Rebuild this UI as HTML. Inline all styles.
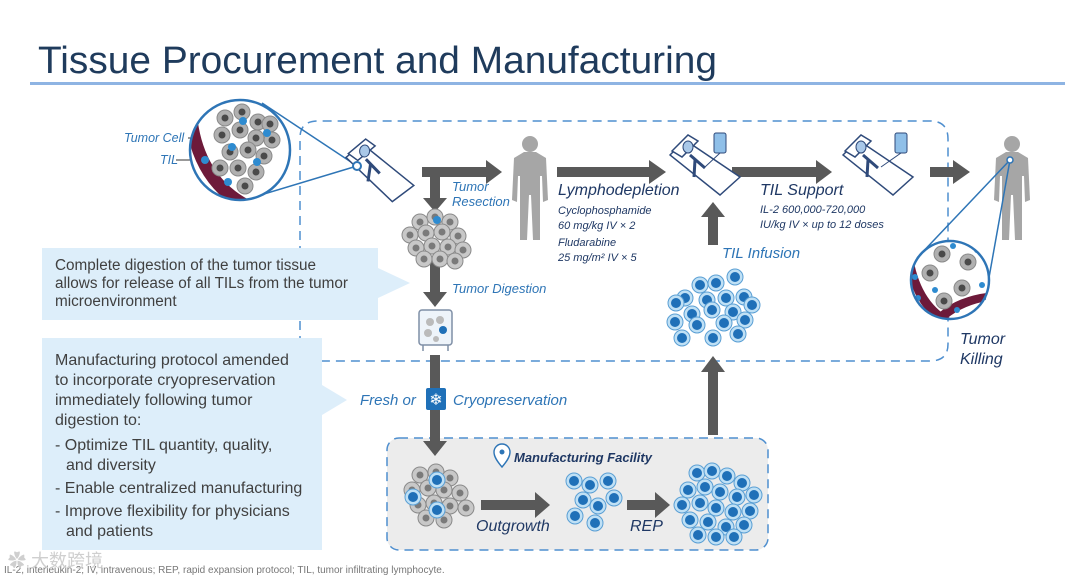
<!DOCTYPE html>
<html><head><meta charset="utf-8"><style>
html,body{margin:0;padding:0;background:#fff;width:1080px;height:583px;overflow:hidden}
svg{display:block}
text{font-family:"Liberation Sans",sans-serif}
.it{font-style:italic;fill:#2e75b6}
.nv{font-style:italic;fill:#1f3864}
.cb{fill:#404040;font-size:15.3px}
.cb2{fill:#404040;font-size:16px}
</style></head><body>
<svg width="1080" height="583" viewBox="0 0 1080 583" xmlns="http://www.w3.org/2000/svg">
<defs>
<g id="bc"><circle r="8" fill="#bfe0f5" stroke="#5a9fd4" stroke-width="1"/><circle r="5" fill="#1f70b8"/></g>
<g id="gc"><circle r="8" fill="#c8c8c8" stroke="#8a8a8a" stroke-width="1"/><circle r="3.5" fill="#7a7a7a"/></g>
<g id="gd"><circle r="8" fill="#b0b0b0" stroke="#8a8a8a" stroke-width="1"/><circle r="3.5" fill="#4a4a4a"/></g>
<g id="person"><circle cx="0" cy="-46" r="8" fill="#a6a6a6"/><path d="M-6,-38 L6,-38 L16,-32 L18,10 L13,12 L12,-14 L10,-14 L10,50 L3,50 L1,5 L-1,5 L-3,50 L-10,50 L-10,-14 L-12,-14 L-13,12 L-18,10 L-16,-32 Z" fill="#a6a6a6"/></g>
<g id="bed"><path d="M-30,-10 L-15,-25 L40,12 L20,30 Z" fill="#fff" stroke="#2f4a7a" stroke-width="1.5"/><path d="M-28,-14 L-12,-30 L-2,-24 L-18,-8 Z" fill="#fff" stroke="#2f4a7a" stroke-width="1.5"/><ellipse cx="-12" cy="-18" rx="5" ry="6" fill="#a9c8e8" stroke="#2f4a7a"/><path d="M-10,-10 L5,3 M-5,-5 L-6,12" stroke="#2f4a7a" stroke-width="3" fill="none"/></g>
</defs>

<!-- title -->
<text x="38" y="73" font-size="38" fill="#1f3b5c" textLength="679" lengthAdjust="spacingAndGlyphs">Tissue Procurement and Manufacturing</text>
<rect x="30" y="82" width="1035" height="3" fill="#8eb4e3"/>

<!-- dashed main box -->
<path d="M300,345 L300,138 Q300,121 318,121 L930,121 Q948,121 948,139 L948,344 Q948,361 930,361 L230,361 Q216,361 214,350" fill="none" stroke="#4f8fcf" stroke-width="1.5" stroke-dasharray="9,6"/>

<!-- manufacturing facility box -->
<rect x="387" y="438" width="381" height="112" rx="12" fill="#ececec" stroke="#4f8fcf" stroke-width="1.5" stroke-dasharray="9,6"/>

<!-- callouts -->
<path d="M42,248 L378,248 L378,268 L410,283 L378,298 L378,320 L42,320 Z" fill="#ddeefa"/>
<path d="M42,338 L322,338 L322,385 L347,400 L322,415 L322,550 L42,550 Z" fill="#ddeefa"/>
<text class="cb" x="55" y="270">Complete digestion of the tumor tissue</text>
<text class="cb" x="55" y="288">allows for release of all TILs from the tumor</text>
<text class="cb" x="55" y="306">microenvironment</text>
<text class="cb2" x="55" y="365">Manufacturing protocol amended</text>
<text class="cb2" x="55" y="385">to incorporate cryopreservation</text>
<text class="cb2" x="55" y="405">immediately following tumor</text>
<text class="cb2" x="55" y="425">digestion to:</text>
<text class="cb2" x="55" y="450">- Optimize TIL quantity, quality,</text>
<text class="cb2" x="66" y="470">and diversity</text>
<text class="cb2" x="55" y="493">- Enable centralized manufacturing</text>
<text class="cb2" x="55" y="516">- Improve flexibility for physicians</text>
<text class="cb2" x="66" y="536">and patients</text>

<!-- arrows -->
<g fill="#595959">
<rect x="422" y="167" width="66" height="10"/><polygon points="486,160 502,172 486,184"/>
<rect x="430" y="172" width="10" height="28"/><polygon points="423,198 447,198 435,212"/>
<rect x="430" y="262" width="10" height="32"/><polygon points="423,292 447,292 435,307"/>
<rect x="430" y="355" width="10" height="88"/><polygon points="423,441 447,441 435,456"/>
<rect x="557" y="167" width="94" height="10"/><polygon points="649,160 666,172 649,184"/>
<rect x="732" y="167" width="86" height="10"/><polygon points="816,160 832,172 816,184"/>
<rect x="930" y="167" width="25" height="10"/><polygon points="953,160 970,172 953,184"/>
<rect x="708" y="215" width="10" height="30"/><polygon points="701,217 725,217 713,202"/>
<rect x="708" y="370" width="10" height="65"/><polygon points="701,372 725,372 713,356"/>
<rect x="481" y="500" width="56" height="10"/><polygon points="535,492 550,505 535,518"/>
<rect x="627" y="500" width="30" height="10"/><polygon points="655,492 670,505 655,518"/>
</g>

<!-- labels -->
<text class="it" x="452" y="191" font-size="13">Tumor</text>
<text class="it" x="452" y="206" font-size="13">Resection</text>
<text class="nv" x="558" y="195" font-size="16">Lymphodepletion</text>
<text class="nv" x="558" y="214" font-size="11">Cyclophosphamide</text>
<text class="nv" x="558" y="229" font-size="11">60 mg/kg IV × 2</text>
<text class="nv" x="558" y="246" font-size="11">Fludarabine</text>
<text class="nv" x="558" y="261" font-size="11">25 mg/m² IV × 5</text>
<text class="nv" x="760" y="195" font-size="16">TIL Support</text>
<text class="nv" x="760" y="213" font-size="11">IL-2 600,000-720,000</text>
<text class="nv" x="760" y="228" font-size="11">IU/kg IV × up to 12 doses</text>
<text class="it" x="722" y="258" font-size="15">TIL Infusion</text>
<text class="it" x="452" y="293" font-size="13">Tumor Digestion</text>
<text class="it" x="360" y="405" font-size="15">Fresh or</text>
<rect x="426" y="388" width="20" height="22" rx="2" fill="#1f70b8"/>
<text x="436" y="405" font-size="16" fill="#fff" text-anchor="middle">❄</text>
<text class="it" x="453" y="405" font-size="15">Cryopreservation</text>
<path d="M502,467 C496,460 494,456 494,452 A8,8 0 0 1 510,452 C510,456 508,460 502,467 Z" fill="#fff" stroke="#2e75b6" stroke-width="1.4"/>
<circle cx="502" cy="452" r="2.5" fill="#2e75b6"/>
<text x="514" y="462" font-size="13" font-weight="bold" font-style="italic" fill="#1f3864">Manufacturing Facility</text>
<text class="nv" x="476" y="531" font-size="16">Outgrowth</text>
<text class="nv" x="630" y="531" font-size="16">REP</text>
<text class="nv" x="960" y="344" font-size="16">Tumor</text>
<text class="nv" x="960" y="364" font-size="16">Killing</text>
<text class="it" x="124" y="142" font-size="12.5">Tumor Cell</text>
<text class="it" x="160" y="164" font-size="12.5">TIL</text>
<path d="M188,138 L215,138 M176,160 L195,160 L204,158" stroke="#333" stroke-width="1" fill="none"/>

<!-- left magnifier -->
<g>
<line x1="262" y1="103" x2="357" y2="166" stroke="#2e75b6" stroke-width="1.5"/>
<line x1="254" y1="197" x2="357" y2="166" stroke="#2e75b6" stroke-width="1.5"/>
<clipPath id="c1"><circle cx="240" cy="150" r="50"/></clipPath>
<circle cx="240" cy="150" r="50" fill="#fff"/>
<g clip-path="url(#c1)">
<path d="M196,100 Q198,180 260,205 L260,220 Q185,190 184,100 Z" fill="#6d1a3a"/>
<use href="#gd" x="225" y="118"/><use href="#gd" x="242" y="112"/><use href="#gd" x="258" y="122"/><use href="#gd" x="222" y="135"/><use href="#gd" x="240" y="130"/><use href="#gd" x="256" y="138"/><use href="#gd" x="272" y="140"/><use href="#gd" x="230" y="152"/><use href="#gd" x="248" y="150"/><use href="#gd" x="264" y="156"/><use href="#gd" x="220" y="168"/><use href="#gd" x="238" y="168"/><use href="#gd" x="256" y="172"/><use href="#gd" x="245" y="186"/><use href="#gd" x="270" y="124"/>
<circle cx="243" cy="121" r="4" fill="#2e8bd0"/><circle cx="267" cy="133" r="4" fill="#2e8bd0"/><circle cx="232" cy="147" r="4" fill="#2e8bd0"/><circle cx="205" cy="160" r="4" fill="#2e8bd0"/><circle cx="257" cy="162" r="4" fill="#2e8bd0"/><circle cx="228" cy="182" r="4" fill="#2e8bd0"/>
</g>
<circle cx="240" cy="150" r="50" fill="none" stroke="#2e75b6" stroke-width="2.5"/>
</g>

<!-- left bed -->
<g transform="translate(375,170) rotate(5)"><use href="#bed"/></g>
<circle cx="357" cy="166" r="4" fill="#fff" stroke="#2e75b6" stroke-width="2"/>

<!-- persons -->
<g transform="translate(530,190)"><use href="#person"/></g>
<g transform="translate(1012,190)"><use href="#person"/></g>

<!-- beds with IV -->
<g transform="translate(700,165)"><use href="#bed"/><rect x="14" y="-32" width="12" height="20" rx="2" fill="#8fbfe8" stroke="#2f4a7a"/><line x1="20" y1="-12" x2="5" y2="2" stroke="#2f4a7a"/></g>
<g transform="translate(873,165)"><use href="#bed"/><rect x="22" y="-32" width="12" height="20" rx="2" fill="#8fbfe8" stroke="#2f4a7a"/><line x1="28" y1="-12" x2="8" y2="2" stroke="#2f4a7a"/></g>

<!-- right magnifier -->
<line x1="1010" y1="160" x2="917" y2="258" stroke="#2e75b6" stroke-width="1.5"/>
<line x1="1010" y1="160" x2="985" y2="300" stroke="#2e75b6" stroke-width="1.5"/>
<circle cx="1010" cy="160" r="3" fill="#fff" stroke="#2e75b6" stroke-width="1.5"/>
<clipPath id="c2"><circle cx="950" cy="280" r="39"/></clipPath>
<circle cx="950" cy="280" r="39" fill="#fff"/>
<g clip-path="url(#c2)">
<path d="M912,250 Q918,300 950,318 L945,325 Q908,305 905,250 Z" fill="#6d1a3a"/>
<path d="M940,312 Q960,295 995,292 L995,300 Q965,303 945,320 Z" fill="#6d1a3a"/>
<use href="#gd" x="942" y="254"/><use href="#gd" x="968" y="262"/><use href="#gd" x="930" y="273"/><use href="#gd" x="962" y="288"/><use href="#gd" x="944" y="301"/>
<circle cx="953" cy="246" r="3" fill="#2e8bd0"/><circle cx="977" cy="250" r="3" fill="#2e8bd0"/><circle cx="915" cy="277" r="3" fill="#2e8bd0"/><circle cx="982" cy="285" r="3" fill="#2e8bd0"/><circle cx="918" cy="298" r="3" fill="#2e8bd0"/><circle cx="935" cy="290" r="3" fill="#2e8bd0"/><circle cx="957" cy="310" r="3" fill="#2e8bd0"/>
</g>
<circle cx="950" cy="280" r="39" fill="none" stroke="#2e75b6" stroke-width="2.5"/>

<!-- tumor digestion cluster -->
<g>
<use href="#gc" x="420" y="222"/><use href="#gc" x="435" y="217"/><use href="#gc" x="450" y="222"/><use href="#gc" x="410" y="235"/><use href="#gc" x="426" y="233"/><use href="#gc" x="442" y="232"/><use href="#gc" x="458" y="236"/><use href="#gc" x="416" y="248"/><use href="#gc" x="432" y="246"/><use href="#gc" x="448" y="247"/><use href="#gc" x="463" y="250"/><use href="#gc" x="424" y="259"/><use href="#gc" x="440" y="259"/><use href="#gc" x="455" y="261"/>
<circle cx="437" cy="220" r="4" fill="#2e8bd0"/>
</g>
<!-- vial -->
<rect x="419" y="310" width="33" height="35" rx="3" fill="#eef4fa" stroke="#7f8fa6" stroke-width="1.5"/>
<circle cx="430" cy="322" r="4" fill="#bbb"/><circle cx="440" cy="320" r="4" fill="#bbb"/><circle cx="428" cy="333" r="4" fill="#bbb"/><circle cx="443" cy="330" r="4" fill="#1f70b8"/><circle cx="436" cy="339" r="3" fill="#bbb"/>
<path d="M423,345 v6 M448,345 v6" stroke="#7f8fa6" stroke-width="1.5"/>

<!-- TIL infusion cluster -->
<g>
<use href="#bc" x="700" y="285"/><use href="#bc" x="716" y="283"/><use href="#bc" x="735" y="277"/><use href="#bc" x="685" y="298"/><use href="#bc" x="707" y="300"/><use href="#bc" x="726" y="298"/><use href="#bc" x="744" y="297"/><use href="#bc" x="676" y="303"/><use href="#bc" x="692" y="314"/><use href="#bc" x="712" y="310"/><use href="#bc" x="733" y="312"/><use href="#bc" x="752" y="305"/><use href="#bc" x="675" y="322"/><use href="#bc" x="697" y="325"/><use href="#bc" x="724" y="323"/><use href="#bc" x="745" y="320"/><use href="#bc" x="682" y="338"/><use href="#bc" x="713" y="338"/><use href="#bc" x="738" y="334"/>
</g>

<!-- bottom gray cluster -->
<g>
<use href="#gc" x="420" y="475"/><use href="#gc" x="436" y="472"/><use href="#gc" x="450" y="478"/><use href="#gc" x="412" y="490"/><use href="#gc" x="428" y="488"/><use href="#gc" x="444" y="490"/><use href="#gc" x="460" y="493"/><use href="#gc" x="418" y="505"/><use href="#gc" x="434" y="503"/><use href="#gc" x="450" y="506"/><use href="#gc" x="466" y="508"/><use href="#gc" x="426" y="518"/><use href="#gc" x="444" y="520"/>
<use href="#bc" x="437" y="480"/><use href="#bc" x="413" y="497"/><use href="#bc" x="437" y="510"/>
</g>
<!-- outgrowth cluster -->
<g>
<use href="#bc" x="574" y="481"/><use href="#bc" x="590" y="485"/><use href="#bc" x="608" y="481"/><use href="#bc" x="583" y="500"/><use href="#bc" x="598" y="506"/><use href="#bc" x="614" y="498"/><use href="#bc" x="575" y="516"/><use href="#bc" x="595" y="523"/>
</g>
<!-- REP cluster -->
<g>
<use href="#bc" x="697" y="473"/><use href="#bc" x="712" y="471"/><use href="#bc" x="727" y="476"/><use href="#bc" x="742" y="483"/><use href="#bc" x="688" y="490"/><use href="#bc" x="705" y="487"/><use href="#bc" x="720" y="492"/><use href="#bc" x="737" y="497"/><use href="#bc" x="754" y="495"/><use href="#bc" x="682" y="505"/><use href="#bc" x="700" y="503"/><use href="#bc" x="716" y="508"/><use href="#bc" x="733" y="512"/><use href="#bc" x="750" y="511"/><use href="#bc" x="690" y="520"/><use href="#bc" x="708" y="522"/><use href="#bc" x="726" y="527"/><use href="#bc" x="744" y="525"/><use href="#bc" x="698" y="535"/><use href="#bc" x="716" y="537"/><use href="#bc" x="734" y="537"/>
</g>

<!-- footnote -->
<text x="4" y="573" font-size="10" fill="#777">IL-2, interleukin-2; IV, intravenous; REP, rapid expansion protocol; TIL, tumor infiltrating lymphocyte.</text>
<text x="8" y="567" font-size="18" fill="#cfcfcf" font-family="Liberation Sans, Noto Sans CJK SC, sans-serif">✿ 大数跨境</text>
</svg>
</body></html>
